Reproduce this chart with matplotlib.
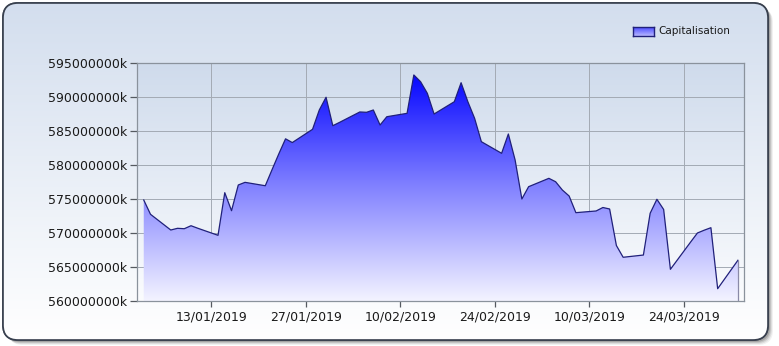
import numpy as np
import pandas as pd
import matplotlib
matplotlib.use("Agg")
import matplotlib.pyplot as plt
import matplotlib.dates as mdates
from matplotlib.colors import LinearSegmentedColormap
from matplotlib.patches import FancyBboxPatch
from matplotlib.ticker import FuncFormatter

# trading days
dates = [
    "2019-01-03", "2019-01-04", "2019-01-07", "2019-01-08", "2019-01-09", "2019-01-10", "2019-01-11",
    "2019-01-14", "2019-01-15", "2019-01-16", "2019-01-17", "2019-01-18", "2019-01-21", "2019-01-22",
    "2019-01-23", "2019-01-24", "2019-01-25", "2019-01-28", "2019-01-29", "2019-01-30", "2019-01-31",
    "2019-02-01", "2019-02-04", "2019-02-05", "2019-02-06", "2019-02-07", "2019-02-08", "2019-02-11",
    "2019-02-12", "2019-02-13", "2019-02-14", "2019-02-15", "2019-02-18", "2019-02-19", "2019-02-20",
    "2019-02-21", "2019-02-22", "2019-02-25", "2019-02-26", "2019-02-27", "2019-02-28",
    "2019-03-01", "2019-03-04", "2019-03-05", "2019-03-06", "2019-03-07", "2019-03-08", "2019-03-11",
    "2019-03-12", "2019-03-13", "2019-03-14", "2019-03-15", "2019-03-18", "2019-03-19", "2019-03-20",
    "2019-03-21", "2019-03-22", "2019-03-25", "2019-03-26", "2019-03-27", "2019-03-28", "2019-03-29",
    "2019-04-01",
]

# capitalisation, in millions of "k"
cap = [
    574.85, 572.75, 570.44, 570.69, 570.63, 571.07, 570.70,
    569.66, 575.93, 573.28, 577.06, 577.45, 576.95, 579.31,
    581.63, 583.85, 583.30, 585.25, 588.09, 589.96, 585.78,
    586.27, 587.80, 587.75, 588.09, 585.88, 587.10, 587.60,
    593.24, 592.25, 590.54, 587.50, 589.31, 592.10, 589.31,
    586.87, 583.43, 581.72, 584.56, 580.74, 575.00,
    576.81, 578.04, 577.54, 576.32, 575.44, 572.99, 573.24,
    573.75, 573.53, 568.16, 566.43, 566.76, 572.90, 574.96,
    573.46, 564.66, 568.68, 570.00, 570.41, 570.78, 561.81,
    565.99,
]

tick_dates = ["2019-01-13", "2019-01-27", "2019-02-10", "2019-02-24", "2019-03-10", "2019-03-24"]
y_ticks = [560, 565, 570, 575, 580, 585, 590, 595]
series_name = "Capitalisation"

x = mdates.date2num(pd.to_datetime(dates))
y = np.array(cap)
xt = mdates.date2num(pd.to_datetime(tick_dates))

W, H = 779, 346
fig = plt.figure(figsize=(W / 100, H / 100), dpi=100)
fig.patch.set_facecolor("white")

# outer rounded panel with shadow and gradient
bg = fig.add_axes([0, 0, 1, 1])
bg.set_xlim(0, W)
bg.set_ylim(H, 0)
bg.axis("off")
for i, a in enumerate([0.08, 0.12, 0.18, 0.26]):
    off = 4 - i
    sh = FancyBboxPatch((3 + off + 1, 3 + off + 1), 765, 337,
                        boxstyle="round,pad=0,rounding_size=15",
                        facecolor=(0.3, 0.3, 0.3, a), edgecolor="none")
    bg.add_patch(sh)
panel = FancyBboxPatch((3, 3), 765, 337, boxstyle="round,pad=0,rounding_size=15",
                       facecolor="white", edgecolor="#38404e", linewidth=1.2, zorder=2)
bg.add_patch(panel)
pan_cmap = LinearSegmentedColormap.from_list("pan", ["#d3deee", "#ffffff"])
g = np.linspace(0, 1, 256).reshape(-1, 1)
im = bg.imshow(g, extent=[3, 768, 340, 3], cmap=pan_cmap, aspect="auto", zorder=2.5)
im.set_clip_path(panel)
border = FancyBboxPatch((3, 3), 765, 337, boxstyle="round,pad=0,rounding_size=15",
                        facecolor="none", edgecolor="#38404e", linewidth=1.2, zorder=3)
bg.add_patch(border)

# main plot
ax = fig.add_axes([137 / W, 1 - 301 / H, (744 - 137) / W, (301 - 63) / H])
ax.set_facecolor("none")
plot_cmap = LinearSegmentedColormap.from_list("plot", ["#fbfcfe", "#cfdbec"])
ax.imshow(np.linspace(0, 1, 256).reshape(-1, 1), extent=[0, 1, 0, 1], origin="lower",
          transform=ax.transAxes, cmap=plot_cmap, aspect="auto", zorder=0)

x0 = x[0] - 1.0
x1 = x[-1] + 0.9
ymin, ymax = y_ticks[0], y_ticks[-1]

poly = ax.fill_between(x, y, ymin, facecolor="none", edgecolor="none", zorder=2)
fill_cmap = LinearSegmentedColormap.from_list("fill", ["#f4f4ff", "#8080ff", "#0000ff"])
fim = ax.imshow(np.linspace(0, 1, 256).reshape(-1, 1), extent=[x0, x1, ymin, 594],
                origin="lower", cmap=fill_cmap, aspect="auto", zorder=2)
fim.set_clip_path(poly.get_paths()[0], ax.transData)
ax.plot(x, y, color="#20207a", linewidth=0.9, zorder=3)
ax.vlines(x[-1], ymin, y[-1], color="#8a8aa8", linewidth=0.9, zorder=3)

ax.set_xlim(x0, x1)
ax.set_ylim(ymin, ymax)
ax.set_xticks(xt)
ax.xaxis.set_major_formatter(mdates.DateFormatter("%d/%m/%Y"))
ax.set_yticks(y_ticks)
ax.yaxis.set_major_formatter(FuncFormatter(lambda v, p: f"{v * 1e6:.0f}k"))

ax.grid(True, color="#a3aab4", linewidth=0.7)
ax.set_axisbelow(True)
for s in ax.spines.values():
    s.set_color("#8a929c")
    s.set_linewidth(0.9)
ax.tick_params(axis="y", length=5, width=0.9, color="#555a60", pad=2,
               labelsize=9, labelcolor="#1a1a1a")
ax.tick_params(axis="x", length=4, width=0.9, color="#555a60", pad=3,
               labelsize=9, labelcolor="#1a1a1a")

# legend
lax = fig.add_axes([633 / W, 1 - 36 / H, 21 / W, 9 / H])
lax.imshow(np.linspace(0, 1, 64).reshape(-1, 1), extent=[0, 1, 0, 1], origin="lower",
           cmap=LinearSegmentedColormap.from_list("lg", ["#b8b8ff", "#4a4aff"]), aspect="auto")
lax.set_xticks([])
lax.set_yticks([])
for s in lax.spines.values():
    s.set_color("#20207a")
    s.set_linewidth(1.0)
fig.text(658 / W, 1 - 31 / H, series_name, fontsize=7.5, color="#1a1a1a", va="center", ha="left")

fig.savefig("out.png", dpi=100)
